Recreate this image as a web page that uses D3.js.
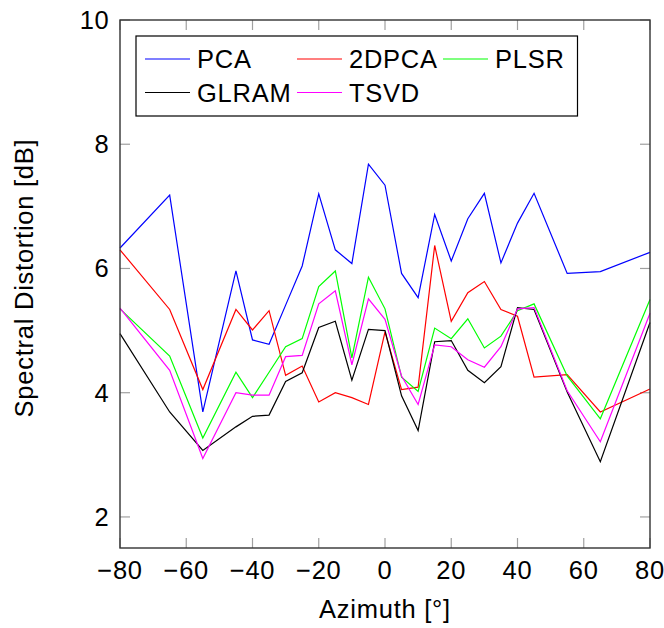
<!DOCTYPE html>
<html>
<head>
<meta charset="utf-8">
<script src="https://cdn.jsdelivr.net/npm/d3@7/dist/d3.min.js"></script>
<style>
  body { margin: 0; background: #fff; }
  text { font-family: "Liberation Sans", Arial, Helvetica, sans-serif; fill: #000; letter-spacing: 0.75px; }
</style>
</head>
<body>
<svg id="chart" width="664" height="628"></svg>
<script>
const azimuths = [-80, -65, -55, -45, -40, -35, -30, -25, -20, -15, -10, -5, 0, 5, 10, 15, 20, 25, 30, 35, 40, 45, 55, 65, 80];
const pca    = [6.33, 7.18, 3.69, 5.96, 4.85, 4.78, 5.41, 6.04, 7.20, 6.30, 6.08, 7.68, 7.34, 5.92, 5.53, 6.87, 6.12, 6.80, 7.21, 6.09, 6.73, 7.21, 5.92, 5.95, 6.26];
const dpca2  = [6.30, 5.34, 4.05, 5.34, 5.01, 5.32, 4.28, 4.43, 3.85, 4.00, 3.92, 3.81, 4.98, 4.05, 4.09, 6.37, 5.15, 5.61, 5.79, 5.34, 5.23, 4.25, 4.29, 3.69, 4.06];
const plsr   = [5.35, 4.59, 3.27, 4.33, 3.92, 4.33, 4.74, 4.87, 5.71, 5.96, 4.56, 5.86, 5.35, 4.25, 4.02, 5.04, 4.87, 5.19, 4.72, 4.91, 5.32, 5.43, 4.27, 3.58, 5.50];
const glram  = [4.95, 3.69, 3.07, 3.45, 3.62, 3.64, 4.18, 4.32, 5.05, 5.15, 4.20, 5.02, 5.00, 3.95, 3.39, 4.82, 4.84, 4.36, 4.16, 4.42, 5.37, 5.34, 4.01, 2.89, 5.13];
const tsvd   = [5.36, 4.36, 2.94, 4.00, 3.96, 3.96, 4.58, 4.60, 5.43, 5.64, 4.45, 5.51, 5.18, 4.27, 3.81, 4.77, 4.74, 4.53, 4.41, 4.74, 5.35, 5.37, 4.03, 3.21, 5.28];

const seriesNames  = ["PCA", "2DPCA", "PLSR", "GLRAM", "TSVD"];
const seriesValues = [pca, dpca2, plsr, glram, tsvd];
const seriesColors = ["#0000ff", "#ff0000", "#00ff00", "#000000", "#ff00ff"];

const xTicks = [-80, -60, -40, -20, 0, 20, 40, 60, 80];
const yTicks = [2, 4, 6, 8, 10];

const svg = d3.select("#chart");
const L = 120, R = 650, T = 20, B = 548;
const x = d3.scaleLinear().domain([-80, 80]).range([L, R]);
const y = d3.scaleLinear().domain([1.5, 10]).range([B, T]);

const tickLen = 10;
const tickColor = "#a0a0a0";
const fmt = d => (d < 0 ? "\u2212" + Math.abs(d) : String(d));

// ticks (inside, on all four sides)
const gt = svg.append("g").attr("stroke", tickColor).attr("stroke-width", 1.2);
xTicks.forEach(t => {
  gt.append("line").attr("x1", x(t)).attr("x2", x(t)).attr("y1", B).attr("y2", B - tickLen);
  gt.append("line").attr("x1", x(t)).attr("x2", x(t)).attr("y1", T).attr("y2", T + tickLen);
});
yTicks.forEach(t => {
  gt.append("line").attr("x1", L).attr("x2", L + tickLen).attr("y1", y(t)).attr("y2", y(t));
  gt.append("line").attr("x1", R).attr("x2", R - tickLen).attr("y1", y(t)).attr("y2", y(t));
});

// data lines
const line = d3.line().x((d, i) => x(azimuths[i])).y(d => y(d));
seriesValues.forEach((vals, k) => {
  svg.append("path").datum(vals)
    .attr("fill", "none")
    .attr("stroke", seriesColors[k])
    .attr("stroke-width", 1.2)
    .attr("stroke-linejoin", "miter")
    .attr("d", line);
});

// frame
svg.append("rect").attr("x", L).attr("y", T).attr("width", R - L).attr("height", B - T)
  .attr("fill", "none").attr("stroke", "#333").attr("stroke-width", 1.4);

// tick labels
const fs = 25.5;
svg.append("g").selectAll("text").data(xTicks).join("text")
  .attr("x", d => x(d)).attr("y", 578.5)
  .attr("text-anchor", "middle").attr("font-size", fs)
  .text(fmt);
svg.append("g").selectAll("text").data(yTicks).join("text")
  .attr("x", 109.5).attr("y", d => y(d) + 9)
  .attr("text-anchor", "end").attr("font-size", fs)
  .text(fmt);

// axis titles
svg.append("text").attr("x", x(0)).attr("y", 618)
  .attr("text-anchor", "middle").attr("font-size", fs)
  .text("Azimuth [\u00b0]");
svg.append("text")
  .attr("transform", `translate(33, 278) rotate(-90)`)
  .attr("text-anchor", "middle").attr("font-size", fs)
  .text("Spectral Distortion [dB]");

// legend
const lg = svg.append("g");
lg.append("rect").attr("x", 136).attr("y", 36).attr("width", 441.5).attr("height", 80)
  .attr("fill", "#fff").attr("stroke", "#000").attr("stroke-width", 1.2);
const colX = [145, 297, 443];
const rowY = [59, 92.5];
seriesNames.forEach((name, k) => {
  const c = k % 3, r = Math.floor(k / 3);
  lg.append("line").attr("x1", colX[c]).attr("x2", colX[c] + 45)
    .attr("y1", rowY[r]).attr("y2", rowY[r])
    .attr("stroke", seriesColors[k]).attr("stroke-width", 1.2);
  lg.append("text").attr("x", colX[c] + 52).attr("y", rowY[r] + 9)
    .attr("font-size", fs).text(name);
});
</script>
</body>
</html>
